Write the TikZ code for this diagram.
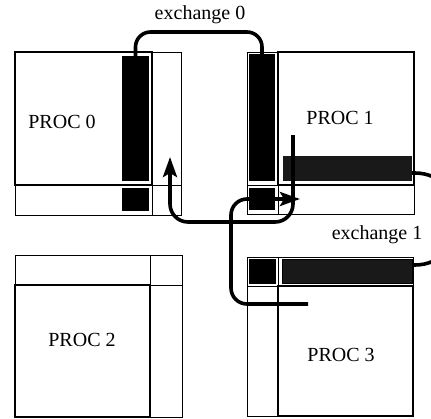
\documentclass[tikz,border=0pt]{standalone}
\usepackage{fontspec}
\setmainfont{Liberation Serif}
\usetikzlibrary{arrows.meta}

\begin{document}
\begin{tikzpicture}[x=1pt, y=-1pt, >={Stealth[length=20pt,width=14pt,inset=4pt]},
  frame/.style={draw, line width=1pt, inner sep=0pt, outer sep=0pt, anchor=north west},
  mainbox/.style={frame, line width=1.9pt},
  bar/.style={fill=black, inner sep=0pt, outer sep=0pt, anchor=north west},
  graybar/.style={bar, fill=black!90},
  divider/.style={line width=1pt},
  conn/.style={line width=3.6pt, rounded corners=18pt},
  proc/.style={font=\fontsize{20}{24}\selectfont},
  xlbl/.style={font=\fontsize{20}{24}\selectfont}]
\useasboundingbox (0,0) rectangle (431,418);
\node[frame, minimum width=166pt, minimum height=163pt] (frame0) at (15,52) {};
\node[mainbox, minimum width=137pt, minimum height=133pt] (main0) at (15,52) {};
\draw[divider] (main0.south east) -- (main0.south east |- frame0.south);
\draw[divider] (main0.south east) -- (main0.south east -| frame0.east);
\node[bar, minimum width=27pt, minimum height=125pt] (bar0) at (122,56) {};
\node[bar, minimum width=27pt, minimum height=23pt] (sq0) at (122,188) {};
\node[proc] (lbl0) at (62,122) {PROC 0};
\node[frame, minimum width=167pt, minimum height=162pt] (frame1) at (247,52) {};
\node[mainbox, minimum width=136pt, minimum height=133pt] (main1) at (278,52) {};
\draw[divider] (main1.south west) -- (main1.south west |- frame1.south);
\draw[divider] (main1.south west) -- (main1.south west -| frame1.west);
\node[bar, minimum width=26pt, minimum height=127pt] (bar1) at (249,54) {};
\node[bar, minimum width=26pt, minimum height=22pt] (sq1) at (249,188) {};
\node[graybar, minimum width=129pt, minimum height=25pt] (hbar1) at (283,156) {};
\node[proc] (lbl1) at (340,118) {PROC 1};
\node[frame, minimum width=167pt, minimum height=162pt] (frame2) at (15,255) {};
\node[mainbox, minimum width=135pt, minimum height=132pt] (main2) at (15,285) {};
\draw[divider] (main2.north east) -- (main2.north east |- frame2.north);
\draw[divider] (main2.north east) -- (main2.north east -| frame2.east);
\node[proc] (lbl2) at (82,340) {PROC 2};
\node[frame, minimum width=166pt, minimum height=159pt] (frame3) at (247,257) {};
\node[mainbox, minimum width=135pt, minimum height=130pt] (main3) at (278,286) {};
\draw[divider] (main3.north west) -- (main3.north west |- frame3.north);
\draw[divider] (main3.north west) -- (main3.north west -| frame3.west);
\node[bar, minimum width=27pt, minimum height=25pt] (sq3) at (249,259) {};
\node[graybar, draw, line width=1pt, minimum width=130pt, minimum height=24pt] (hbar3) at (282,259) {};
\node[proc] (lbl3) at (341,355) {PROC 3};
\node[xlbl] (xch0) at (200,15) {exchange 0};
\node[xlbl] (xch1) at (377,235) {exchange 1};
\coordinate (top0) at (200,32);
\coordinate (src1) at (293,135);
\coordinate (dst0) at (170,157);
\coordinate (low) at (230,222);
\coordinate (src3) at (308,304);
\coordinate (dst1) at (300,199);
\coordinate (riser) at (231,0);
\coordinate (out1) at (412,173);
\coordinate (in3) at (412,265);
\coordinate (far) at (460,0);
\draw[conn, rounded corners=15pt] (bar0.north) |- (top0) -| (bar1.north);
\draw[conn, ->] (src1) |- (dst0 |- low) -- (dst0);
\draw[conn, ->, rounded corners=16pt] (src3) -| (riser |- dst1) -- (dst1);
\draw[conn, rounded corners=45pt] (out1) -| (far |- in3) -- (in3);
\end{tikzpicture}
\end{document}
